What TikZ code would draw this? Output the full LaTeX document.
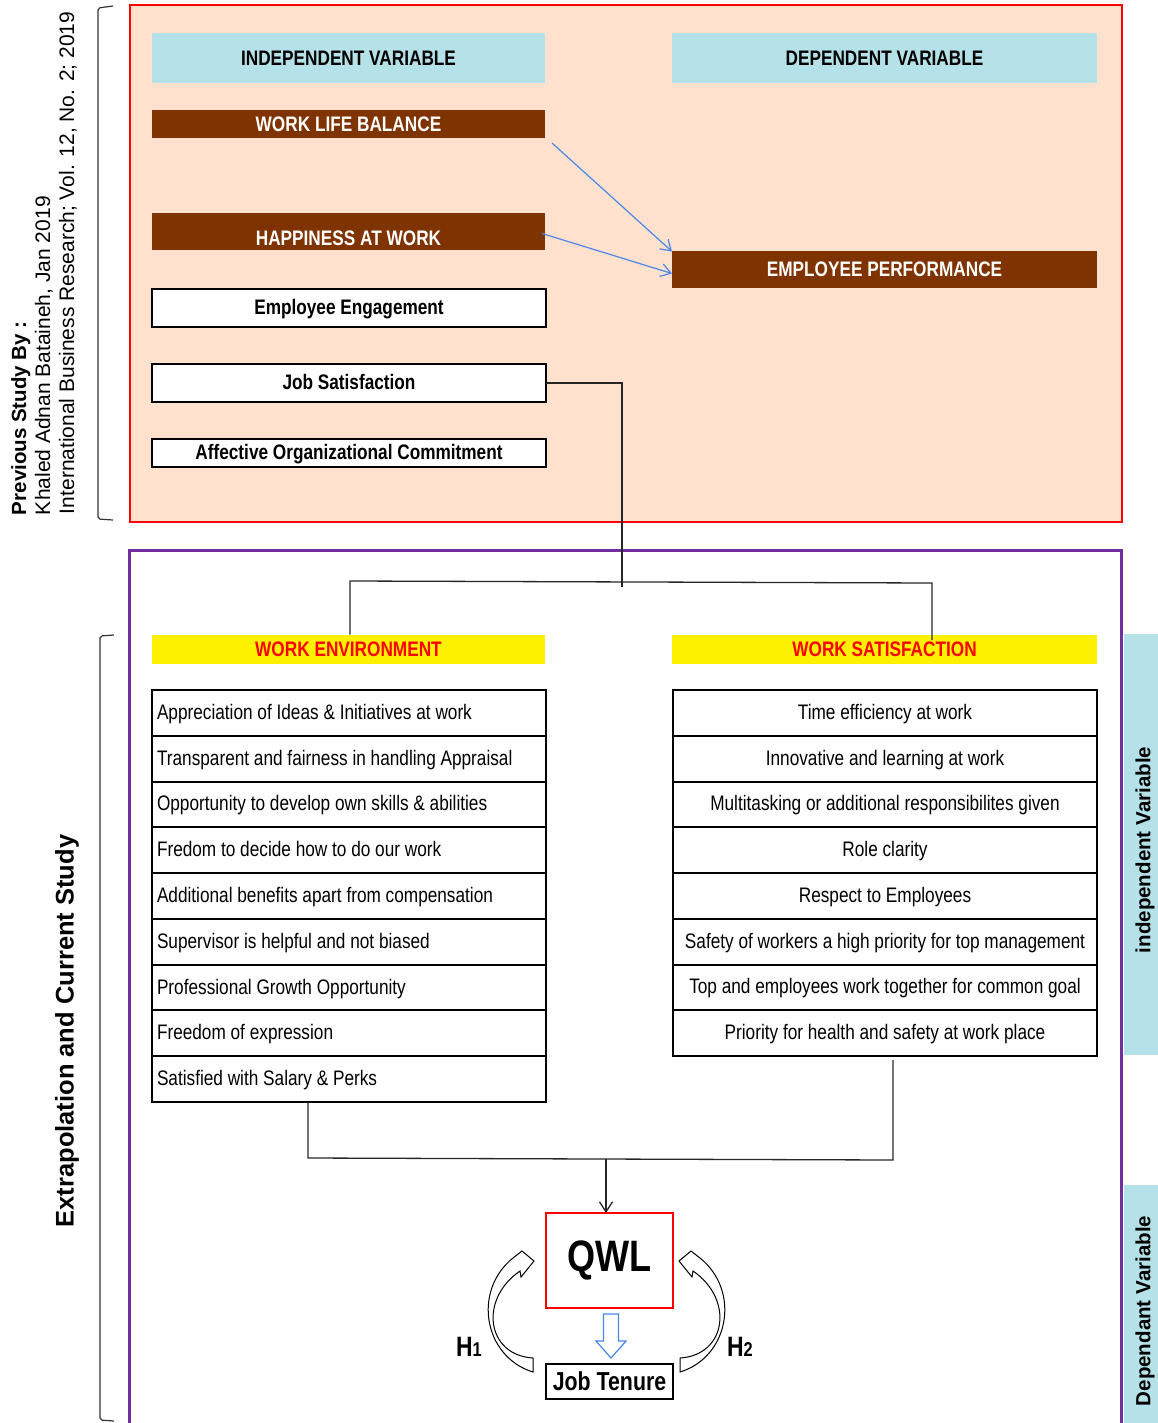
\documentclass[tikz,border=0pt]{standalone}
\usepackage{fontspec}
\setmainfont{Liberation Sans}
\newfontfamily\narrowfont[FakeStretch=0.82]{Liberation Sans}
\usetikzlibrary{arrows.meta}

\definecolor{peach}{HTML}{FFE1CD}
\definecolor{paleblue}{HTML}{B4E2E8}
\definecolor{brownbar}{HTML}{7F3300}
\definecolor{framepurple}{HTML}{7030A0}
\definecolor{linkblue}{HTML}{4A86E8}

\begin{document}
\begin{tikzpicture}[x=1pt, y=-1pt,
    every node/.style={inner sep=0pt, outer sep=0pt},
    plain/.style={font=\narrowfont\fontsize{21}{25}\selectfont},
    heavy/.style={font=\narrowfont\bfseries\fontsize{21}{25}\selectfont},
    headbox/.style={heavy, fill=paleblue, minimum height=50pt},
    barbox/.style={heavy, fill=brownbar, text=white},
    linebox/.style={heavy, draw=black, line width=2pt, fill=white, minimum width=394pt},
    sunbox/.style={heavy, fill=yellow, text=red, minimum height=29pt},
    rowleft/.style={plain, draw=black, line width=2pt, minimum height=45.78pt, minimum width=394pt,
      inner xsep=5pt, text height=15pt, text depth=2pt},
    rowright/.style={plain, draw=black, line width=2pt, minimum height=45.75pt, minimum width=424pt,
      text height=15pt, text depth=2pt},
    sidetext/.style={rotate=90, font=\fontsize{21}{24}\selectfont},
    link/.style={draw=black!85, line width=1.3pt},
    tip/.style={-{Straight Barb[length=10pt,width=13pt]}},
    bentarrow/.style={draw=black, line width=1pt, fill=white}]
\useasboundingbox (0,0) rectangle (1157,1423);

% previous study
\draw[red, line width=2pt, fill=peach] (130,5) rectangle (1122,522);
\draw[black!80, line width=1.2pt, rounded corners=2pt] (113,6) -- (98,8) -- (98,519) -- (113,520);
\node[sidetext, anchor=base west, font=\bfseries\fontsize{20.5}{24}\selectfont] (prevby) at (26,515) {Previous Study By :};
\node[sidetext, anchor=base west] (prevauthor) at (50,515) {Khaled Adnan Bataineh, Jan 2019};
\node[sidetext, anchor=base west] (prevjournal) at (74,514) {International Business Research; Vol. 12, No. 2; 2019};

\node[headbox, minimum width=393pt] (indep) at (348.5,58) {INDEPENDENT VARIABLE};
\node[headbox, minimum width=425pt] (dep) at (884.5,58) {DEPENDENT VARIABLE};
\node[barbox, minimum width=393pt, minimum height=28pt] (wlb) at (348.5,124) {WORK LIFE BALANCE};
\node[barbox, minimum width=393pt, minimum height=37pt, text height=29pt] (haw) at (348.5,231.5) {HAPPINESS AT WORK};
\node[barbox, minimum width=425pt, minimum height=36pt] (perf) at (884.5,269.5) {EMPLOYEE PERFORMANCE};
\node[linebox, minimum height=38pt, text depth=2pt] (engage) at (349,308) {Employee Engagement};
\node[linebox, minimum height=38pt, text depth=2pt] (jobsat) at (349,383) {Job Satisfaction};
\node[linebox, minimum height=28pt, text depth=2pt] (commit) at (349,453) {Affective Organizational Commitment};

\draw[linkblue, line width=1.2pt, tip] ([xshift=7pt,yshift=-5pt]wlb.south east) -- (perf.north west);
\draw[linkblue, line width=1.2pt, tip] ([xshift=-3pt,yshift=-2pt]haw.east) -- ([yshift=-4pt]perf.west);

% current study
\draw[framepurple, line width=3pt] (129,1430) -- (129,550) -- (1121,550) -- (1121,1430);
\draw[black!80, line width=1.2pt, rounded corners=2pt] (114,635) -- (100,636) -- (100,1420) -- (114,1421);
\node[sidetext, font=\bfseries\fontsize{25.5}{28}\selectfont] (extrap) at (67,1031) {Extrapolation and Current Study};

\fill[paleblue] (1124,634) rectangle (1160,1055);
\fill[paleblue] (1124,1185) rectangle (1160,1423);
\node[sidetext, font=\bfseries\fontsize{20.5}{24}\selectfont] (indlabel) at (1145,850) {independent Variable};
\node[sidetext, font=\bfseries\fontsize{20.5}{24}\selectfont] (deplabel) at (1145,1311) {Dependant Variable};

\node[sunbox, minimum width=393pt] (weh) at (348.5,649) {WORK ENVIRONMENT};
\node[sunbox, minimum width=425pt] (wsh) at (884.5,649) {WORK SATISFACTION};

\foreach \txt [count=\i] in {Appreciation of Ideas \& Initiatives at work,
    Transparent and fairness in handling Appraisal,
    Opportunity to develop own skills \& abilities,
    Fredom to decide how to do our work,
    Additional benefits apart from compensation,
    Supervisor is helpful and not biased,
    Professional Growth Opportunity,
    Freedom of expression,
    Satisfied with Salary \& Perks}
  \node[rowleft, anchor=north] (we\i) at (349,{690+45.78*(\i-1)}) {\makebox[384pt][l]{\txt}};

\foreach \txt [count=\i] in {Time efficiency at work,
    Innovative and learning at work,
    Multitasking or additional responsibilites given,
    Role clarity,
    Respect to Employees,
    Safety of workers a high priority for top management,
    Top and employees work together for common goal,
    Priority for health and safety at work place}
  \node[rowright, anchor=north] (ws\i) at (885,{690+45.75*(\i-1)}) {\txt};

% links between the studies
\coordinate (jsdrop) at (622,587);
\coordinate (barL) at (350,581);
\coordinate (barR) at (932,583);
\coordinate (wsdrop) at (932,640);
\draw[link] (jobsat.east) -| (jsdrop);
\draw[link] (weh.north -| barL) -- (barL) -- (barR) -- (wsdrop);

% outcome
\node[draw=red, line width=2pt, minimum width=127pt, minimum height=95pt,
      font=\narrowfont\bfseries\fontsize{44}{48}\selectfont] (qwl) at (609.5,1260.5) {QWL};
\node[draw=black, line width=2pt, minimum width=127pt, minimum height=35pt,
      font=\narrowfont\bfseries\fontsize{26}{30}\selectfont] (tenure) at (609.5,1381.5) {Job Tenure};

\coordinate (mergeL) at (308,1158);
\coordinate (mergeR) at (893,1160);
\coordinate (mergeM) at (606,1159);
\coordinate (wsrise) at (893,1060);
\draw[link] (we9.south -| mergeL) -- (mergeL) -- (mergeR) -- (wsrise);
\draw[link, tip] (mergeM) -- (qwl.north -| mergeM);

\draw[linkblue, line width=1.2pt, fill=white] (603.5,1314) -- (618.5,1314) -- (618.5,1341) -- (626,1341)
  -- (611,1358) -- (596,1341) -- (603.5,1341) -- cycle;

\begin{scope}[shift={(534,1261)}]
  \draw[bentarrow] (-1,97) -- (-1,111) .. controls (-50,96) and (-62,30) .. (-21,-3) -- (-12,-10) -- (0,0)
    -- (-13,16) -- (-14,10) .. controls (-55,38) and (-48,94) .. (-1,97) -- cycle;
\end{scope}
\begin{scope}[shift={(679,1261)}, xscale=-1]
  \draw[bentarrow] (-1,97) -- (-1,111) .. controls (-50,96) and (-62,30) .. (-21,-3) -- (-12,-10) -- (0,0)
    -- (-13,16) -- (-14,10) .. controls (-55,38) and (-48,94) .. (-1,97) -- cycle;
\end{scope}

\node[font=\narrowfont\bfseries\fontsize{28}{30}\selectfont] (hone) at (469,1347) {H\fontsize{20}{22}\selectfont 1};
\node[font=\narrowfont\bfseries\fontsize{28}{30}\selectfont] (htwo) at (740,1347) {H\fontsize{20}{22}\selectfont 2};
\end{tikzpicture}
\end{document}
